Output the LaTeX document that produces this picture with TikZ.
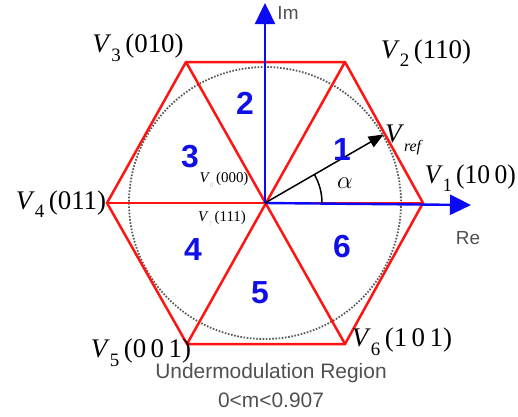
\documentclass[tikz,border=0pt]{standalone}
\usepackage{fontspec}
\setmainfont{Liberation Serif}
\setsansfont{Liberation Sans}
\usetikzlibrary{arrows.meta}
\definecolor{hexred}{RGB}{255,20,20}
\definecolor{axblue}{RGB}{10,10,245}
\definecolor{numblue}{RGB}{15,15,230}
\definecolor{txtgray}{RGB}{80,80,80}
\newcommand{\VecLab}[2]{\textit{V}\raisebox{-0.32em}{\fontsize{19}{19}\selectfont #1}\,(#2)}
\begin{document}
\begin{tikzpicture}[x=1bp,y=-1bp,
  hexline/.style={draw=hexred,line width=2.5bp},
  axis/.style={draw=axblue,line width=2.4bp,-{Triangle[length=21bp,width=20bp]}},
  vlabel/.style={font=\fontsize{27}{29}\selectfont,inner sep=0pt},
  sector/.style={font=\sffamily\bfseries\fontsize{32}{33}\selectfont,text=numblue,inner sep=0pt},
  zlabel/.style={font=\fontsize{15}{16}\selectfont,inner sep=0pt},
  axlabel/.style={font=\sffamily\fontsize{19}{20}\selectfont,text=txtgray,inner sep=0pt},
  note/.style={font=\sffamily\fontsize{21}{23}\selectfont,text=txtgray,inner sep=0pt}]
\useasboundingbox (0,0) rectangle (518,416);
% geometry
\coordinate (C) at (265,203);
\coordinate (P1) at (423,203);
\coordinate (P2) at (345,62);
\coordinate (P3) at (186,62);
\coordinate (P4) at (107,203);
\coordinate (P5) at (187,344);
\coordinate (P6) at (345,344);
\coordinate (ImTip) at (265,3);
\coordinate (ReTip) at (471,205);
\coordinate (Ref) at (383.6,134.5);
% dotted circle
\draw[gray!70!black,line width=1.8bp,dash pattern=on 1.6bp off 1.6bp] (C) circle[radius=136];
% hexagon and spokes
\draw[hexline,line join=miter] (P1) -- (P2) -- (P3) -- (P4) -- (P5) -- (P6) -- cycle;
\draw[hexline] (P4) -- (P1);
\draw[hexline] (P2) -- (P5);
\draw[hexline] (P3) -- (P6);
% axes
\draw[axis] (C) -- (ImTip);
\draw[axis] (C) -- (ReTip);
% reference vector and angle
\draw[black,line width=1.5bp,-{Triangle[length=15bp,width=12bp]}] (C) -- (Ref);
\draw[black,line width=1.5bp] (C) ++(57,0) arc[start angle=0,end angle=-30,radius=57];
% labels
\node[axlabel] (im) at (288,13) {Im};
\node[axlabel] (re) at (468,238) {Re};
\node[vlabel,anchor=east] (l1) at (516,178) {\scalebox{0.95}[1]{\VecLab{1}{10\,0}}};
\node[vlabel] (l2) at (426,53) {\VecLab{2}{110}};
\node[vlabel] (l3) at (138,48) {\VecLab{3}{010}};
\node[vlabel] (l4) at (61,204) {\VecLab{4}{011}};
\node[vlabel] (l5) at (141,353) {\VecLab{5}{0\,0\,1}};
\node[vlabel] (l6) at (402,342) {\VecLab{6}{1\,0\,1}};
\node[vlabel] (lref) at (404,140) {\textit{V}\raisebox{-0.35em}{\fontsize{16}{16}\selectfont\textit{ref}}};
\node[font=\fontsize{26}{28}\selectfont,inner sep=0pt] (alpha) at (345,183) {$\alpha$};
\node[zlabel] (z0) at (224,180) {\textit{V}\raisebox{-0.3em}{\textcolor{gray!50}{\fontsize{7}{7}\selectfont 0}}\,(000)};
\node[zlabel] (z7) at (222,219) {\textit{V}\raisebox{-0.3em}{\textcolor{gray!50}{\fontsize{7}{7}\selectfont 7}}\,(111)};
\node[sector] (s1) at (342,150) {1};
\node[sector] (s2) at (245,103) {2};
\node[sector] (s3) at (190,157) {3};
\node[sector] (s4) at (193,250) {4};
\node[sector] (s5) at (260,293) {5};
\node[sector] (s6) at (342,247) {6};
\node[note] (n1) at (271,373) {Undermodulation Region};
\node[note] (n2) at (271,400) {0<m<0.907};
\end{tikzpicture}
\end{document}
